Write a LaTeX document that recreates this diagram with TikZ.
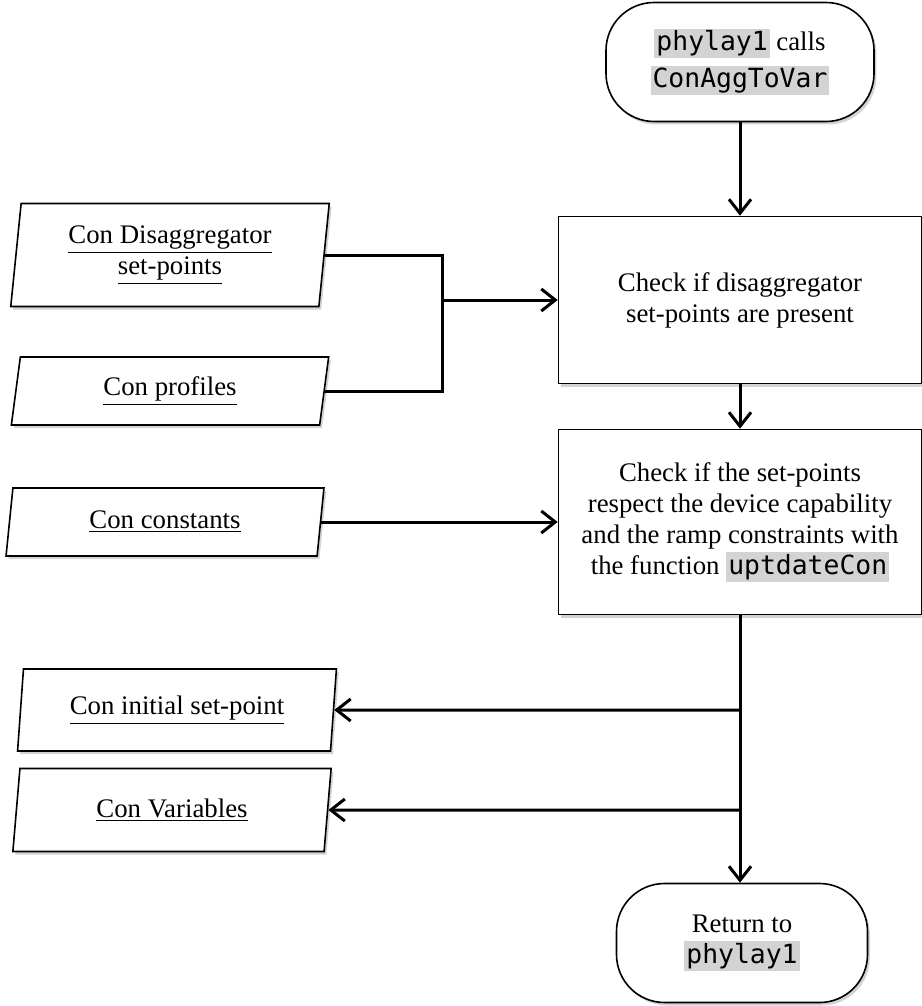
\documentclass[tikz,border=0pt]{standalone}
\usepackage{fontspec}
\setmainfont{Liberation Serif}
\setmonofont[Scale=0.985]{DejaVu Sans Mono}
\usepackage{tikz}
\usetikzlibrary{arrows.meta,positioning,shapes.geometric,shadows}
\definecolor{codebg}{RGB}{211,211,211}
\newcommand{\codebox}[1]{{\setlength{\fboxsep}{1pt}\colorbox{codebg}{\texttt{#1}}}}

\begin{document}
\begin{tikzpicture}[
  x=0.5pt,y=-0.5pt,
  shade/.style={drop shadow={shadow xshift=1.2pt, shadow yshift=-1.5pt, opacity=0.35}},
  term/.style={draw, line width=0.8pt, rounded corners=24pt, fill=white, shade, align=center, font=\fontsize{13.4}{15.5}\selectfont, minimum width=134pt, minimum height=59.5pt},
  proc/.style={draw, line width=0.8pt, fill=white, shade, align=center, font=\fontsize{13.4}{15.5}\selectfont, minimum width=181.5pt},
  data/.style={draw, line width=0.8pt, fill=white, shade, trapezium, trapezium left angle=84, trapezium right angle=96, trapezium stretches=true, align=center, font=\fontsize{13.4}{15.5}\selectfont, minimum width=159.5pt},
  line/.style={line width=1.5pt},
  arr/.style={line width=1.5pt, -{Straight Barb[length=7pt,width=11pt,line width=1.5pt]}}
]
\useasboundingbox (0,0) rectangle (921,1006);
\node[term] (start) at (740,62) {\codebox{phylay1} calls\\[3pt]\codebox{ConAggToVar}};
\node[proc, minimum height=83.5pt] (checkset) at (740,300) {Check if disaggregator\\set-points are present};
\node[proc, minimum height=92.5pt] (checkcap) at (740,522) {Check if the set-points\\respect the device capability\\and the ramp constraints with\\the function \codebox{uptdateCon}};
\node[term, minimum width=125.5pt] (stop) at (742,943) {Return to\\\codebox{phylay1}};
\node[data, minimum height=51.5pt] (disagg) at (170,255) {\underline{Con Disaggregator}\\\underline{set-points}};
\node[data, minimum height=34pt] (profiles) at (170,391) {\underline{Con profiles}};
\node[data, minimum height=34pt] (constants) at (165,522) {\underline{Con constants}};
\node[data, minimum height=41pt] (initial) at (177,710) {\underline{Con initial set-point}};
\node[data, minimum height=41.5pt] (variables) at (172,810) {\underline{Con Variables}};
\coordinate (join) at (442,300);
\coordinate (split1) at (740,710);
\coordinate (split2) at (740,810);
\draw[arr] (start) -- (checkset);
\draw[line] (disagg.east) -| (join); \draw[line] (profiles.east) -| (join);
\draw[arr] (join) -- (checkset.west);
\draw[arr] (checkset) -- (checkcap);
\draw[arr] (constants.east) -- (constants.east -| checkcap.west);
\draw[arr] (checkcap.south) -- (checkcap.south |- stop.north);
\draw[arr] (split1) -- (initial.east); \draw[arr] (split2) -- (variables.east);
\end{tikzpicture}
\end{document}
